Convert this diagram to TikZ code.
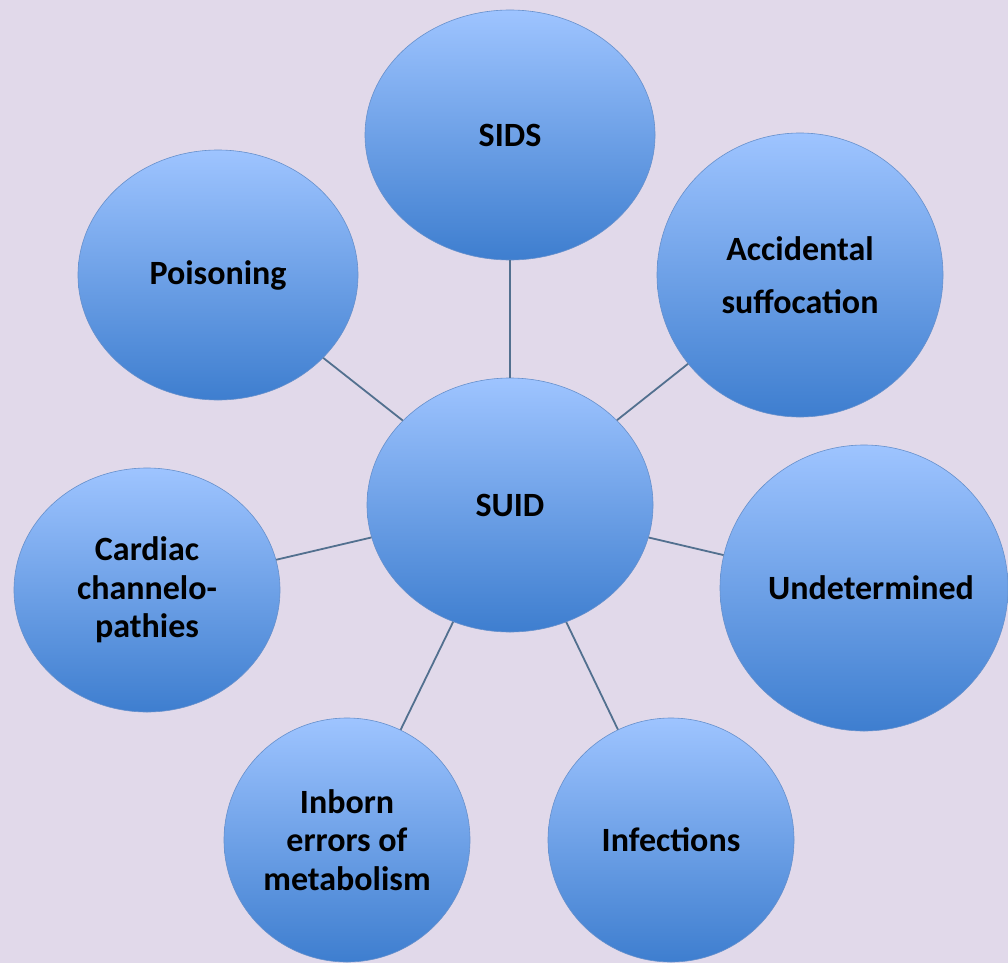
\documentclass[tikz,border=0pt]{standalone}
\usepackage{fontspec}
\setmainfont{Carlito}
\usetikzlibrary{shapes.geometric}
\definecolor{bgc}{HTML}{E1D9EA}
\definecolor{topc}{HTML}{9EC4FF}
\definecolor{botc}{HTML}{3E7ECF}
\definecolor{edgec}{HTML}{6690CC}
\definecolor{linec}{HTML}{52708F}
\tikzset{
  bubble/.style={ellipse, inner sep=0pt, draw=edgec, line width=0.6pt,
    top color=topc, bottom color=botc, align=center,
    font=\fontsize{34}{38.5}\selectfont\bfseries, text=black},
  link/.style={draw=linec, line width=1.8pt}
}
\begin{document}
\begin{tikzpicture}[x=1pt,y=-1pt]
\fill[bgc] (0,0) rectangle (1008,963);
\useasboundingbox (0,0) rectangle (1008,963);
\node[bubble, minimum width=290pt, minimum height=250pt] (sids) at (510,135) {SIDS};
\node[bubble, minimum width=280pt, minimum height=250pt] (pois) at (218,275) {Poisoning};
\node[bubble, minimum width=286pt, minimum height=284pt] (acc) at (800,275) {Accidental\\[15pt]suffocation};
\node[bubble, minimum width=286pt, minimum height=254pt] (suid) at (510,505) {SUID};
\node[bubble, minimum width=266pt, minimum height=244pt] (card) at (147,590) {Cardiac\\channelo-\\pathies};
\node[bubble, minimum width=288pt, minimum height=286pt] (und) at (864,588) {\makebox[0pt]{\hspace*{14pt}Undetermined}};
\node[bubble, minimum width=246pt, minimum height=244pt] (inb) at (347,840) {Inborn\\errors of\\metabolism};
\node[bubble, minimum width=246pt, minimum height=244pt] (inf) at (671,840) {Infections};
\path[link] (sids) -- (suid);
\path[link] (pois) -- (suid);
\path[link] (acc) -- (suid);
\path[link] (card) -- (suid);
\path[link] (und) -- (suid);
\path[link] (inb) -- (suid);
\path[link] (inf) -- (suid);
\end{tikzpicture}
\end{document}
